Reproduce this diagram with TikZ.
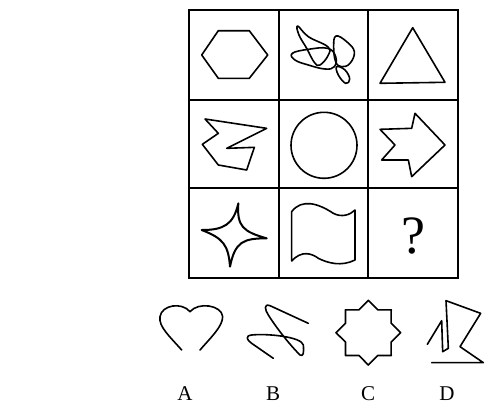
\documentclass[tikz,border=0pt]{standalone}
\usepackage{fontspec}
\setmainfont{Liberation Serif}
\usetikzlibrary{positioning,calc}
\tikzset{
    gridline/.style = {line width=2.2pt, draw=black, line cap=rect},
    figline/.style  = {line width=1.6pt, draw=black, line join=round, line cap=round},
    optlabel/.style = {font=\fontsize{21}{21}\selectfont, inner sep=0pt}
}
\begin{document}
\begin{tikzpicture}[x=1pt, y=-1pt,
        qlabel/.style={font=\fontsize{54}{54}\selectfont, inner sep=0pt},
        thickfig/.style={figline, line width=2pt}
    ]
    \useasboundingbox[fill=white] (0,0) rectangle (486,407);

    % --- Grid ---
    \draw[gridline] (189,10) rectangle (458,278);
    \draw[gridline] (279,10) -- (279,278);
    \draw[gridline] (368,10) -- (368,278);
    \draw[gridline] (189,100) -- (458,100);
    \draw[gridline] (189,188) -- (458,188);

    % --- Row 1 ---
    % hexagon
    \draw[figline] (218.3,30.7) -- (249.3,30.7) -- (267.7,55) -- (249.3,78.3)
        -- (218.3,78.3) -- (201.7,55) -- cycle;
    % tangled loops
    \begin{scope}[shift={(275,5)}, scale=1/3]
        \draw[figline] plot[smooth cycle, tension=0.7] coordinates
            {(68,63) (100,95) (158,125) (160,150) (135,180) (118,172) (95,130) (72,90)};
        \draw[figline] plot[smooth cycle, tension=0.7] coordinates
            {(52,145) (100,133) (158,130) (182,155) (178,185) (150,192) (100,180) (60,165)};
        \draw[figline] plot[smooth cycle, tension=0.7] coordinates
            {(183,93) (215,110) (238,140) (225,175) (200,185) (182,170) (176,125)};
        \draw[figline] plot[smooth cycle, tension=0.7] coordinates
            {(185,185) (190,210) (212,235) (224,222) (210,195)};
    \end{scope}
    % triangle
    \draw[figline] (412.7,27.7) -- (445,82.3) -- (380,83.3) -- cycle;

    % --- Row 2 ---
    \begin{scope}[shift={(185,95)}, scale=1/3]
        \draw[figline] (60,72) -- (245,100) -- (125,160) -- (208,157) -- (185,225)
            -- (100,210) -- (52,148) -- (100,115) -- cycle;
    \end{scope}
    \draw[figline] (324,145.3) circle[radius=33];
    \begin{scope}[shift={(365,95)}, scale=1/3]
        \draw[figline] (45,103) -- (140,100) -- (150,55) -- (240,150) -- (140,245)
            -- (130,195) -- (50,195) -- (90,150) -- cycle;
    \end{scope}

    % --- Row 3 ---
    \begin{scope}[shift={(185,185)}, scale=1/3]
        \draw[thickfig] (160,55) .. controls (155,125) and (175,140) .. (245,160)
            .. controls (175,160) and (150,170) .. (135,245)
            .. controls (130,180) and (115,160) .. (50,135)
            .. controls (115,135) and (145,120) .. (160,55) -- cycle;
    \end{scope}
    \begin{scope}[shift={(275,185)}, scale=1/3]
        \draw[figline] (50,80) .. controls (80,40) and (130,55) .. (175,85)
            .. controls (200,98) and (225,90) .. (240,75) -- (240,225)
            .. controls (200,245) and (160,235) .. (130,220)
            .. controls (110,205) and (80,195) .. (50,228) -- cycle;
    \end{scope}
    \node[qlabel] (qmark) at (413,236) {?};

    % --- Options ---
    \begin{scope}[shift={(150,290)}, scale=1/3]
        \draw[figline] (95,180) .. controls (60,140) and (25,110) .. (30,80)
            .. controls (35,45) and (95,35) .. (120,65)
            .. controls (145,35) and (215,45) .. (218,80)
            .. controls (218,110) and (180,145) .. (150,180);
    \end{scope}
    \begin{scope}[shift={(240,295)}, scale=1/3]
        \draw[figline] (205,85) -- (90,32) .. controls (70,25) and (75,45) .. (85,60)
            .. controls (110,100) and (150,150) .. (180,180)
            .. controls (190,185) and (192,175) .. (190,150)
            .. controls (185,125) and (80,115) .. (35,120)
            .. controls (15,122) and (20,135) .. (35,145) -- (100,190);
    \end{scope}
    \begin{scope}[shift={(320,290)}, scale=1/3]
        \draw[figline] (145,128) ++(90:97)
            \foreach \k in {1,...,15} {
                -- ($(145,128)+({90+22.5*\k}:{ifthenelse(mod(\k,2)==1,74,97)})$)
            } -- cycle;
        \draw[figline] (322,163) -- (365,92) -- (368,185) -- (385,175) -- (378,32)
            -- (482,70) -- (420,170) -- (490,218) -- (335,218);
    \end{scope}

    % --- Option labels ---
    \node[optlabel] (lblA) at (185,394) {A};
    \node[optlabel] (lblB) at (273,394) {B};
    \node[optlabel] (lblC) at (368,394) {C};
    \node[optlabel] (lblD) at (447,394) {D};
\end{tikzpicture}
\end{document}
